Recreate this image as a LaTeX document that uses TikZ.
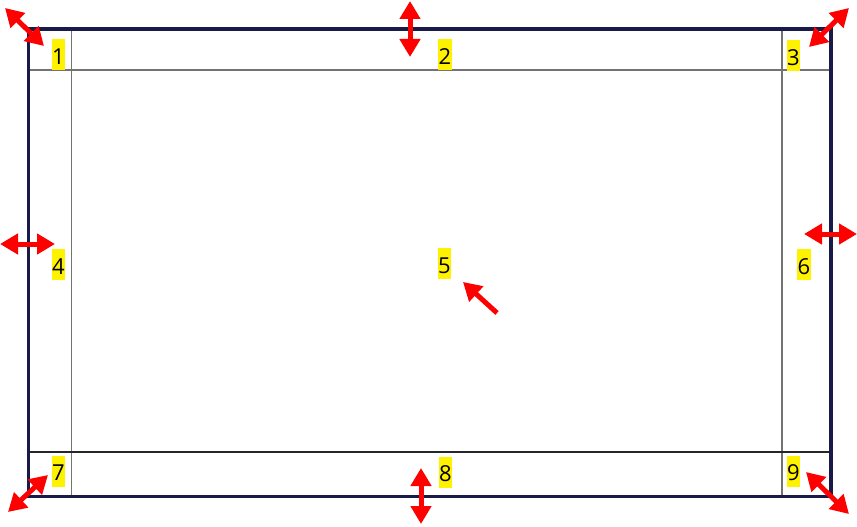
\documentclass[tikz,border=0pt]{standalone}
\usepackage{fontspec}
\setmainfont{Open Sans}
\usetikzlibrary{arrows.meta}
\definecolor{navy}{HTML}{1A1A48}
\begin{document}
\begin{tikzpicture}[x=1pt,y=-1pt,
  lab/.style={fill=yellow,inner sep=0pt,minimum width=13.5pt,minimum height=31pt,text height=19.5pt,text depth=0pt,font=\fontsize{22}{26}\selectfont},
  dbl/.style={draw=red,line width=5pt,{Triangle[length=18pt,width=20pt]}-{Triangle[length=18pt,width=20pt]}},
  sgl/.style={draw=red,line width=5pt,-{Triangle[length=18pt,width=20pt]}},
  gline/.style={draw=black!55,line width=1.2pt},
  bline/.style={draw=black!85,line width=1.2pt}]
\useasboundingbox (0,0) rectangle (857,527);
% inner lines
\draw[gline] (71.5,29) -- (71.5,496.5);
\draw[gline] (782,29) -- (782,496.5);
\draw[gline] (28.7,70) -- (831,70);
\draw[bline] (28.7,452) -- (831,452);
% border
\draw[navy,line width=3.5pt] (28.7,29) rectangle (831,496.5);
% labels
\node[lab] (l1) at (58.5,55) {1};
\node[lab] (l2) at (445,55) {2};
\node[lab] (l3) at (793.3,55.5) {3};
\node[lab] (l4) at (58.5,264.5) {4};
\node[lab] (l5) at (444.5,263.5) {5};
\node[lab] (l6) at (804,264.5) {6};
\node[lab] (l7) at (58.5,471) {7};
\node[lab] (l8) at (445.5,472) {8};
\node[lab] (l9) at (793.5,471) {9};
% arrow end points
\coordinate (a1s) at (5,8);     \coordinate (a1e) at (44,46);
\coordinate (a2s) at (410,1);   \coordinate (a2e) at (410,57);
\coordinate (a3s) at (809,47);  \coordinate (a3e) at (849,8);
\coordinate (a4s) at (0,244);   \coordinate (a4e) at (55,244);
\coordinate (a5s) at (497,313); \coordinate (a5e) at (463,282);
\coordinate (a6s) at (804,234); \coordinate (a6e) at (857,234);
\coordinate (a7s) at (48,475);  \coordinate (a7e) at (8,512);
\coordinate (a8s) at (421,468); \coordinate (a8e) at (421,524);
\coordinate (a9s) at (806,472); \coordinate (a9e) at (849,514);
\draw[dbl] (a1s) -- (a1e);
\draw[dbl] (a2s) -- (a2e);
\draw[dbl] (a3s) -- (a3e);
\draw[dbl] (a4s) -- (a4e);
\draw[sgl] (a5s) -- (a5e);
\draw[dbl] (a6s) -- (a6e);
\draw[dbl] (a7s) -- (a7e);
\draw[dbl] (a8s) -- (a8e);
\draw[dbl] (a9s) -- (a9e);
\end{tikzpicture}
\end{document}
